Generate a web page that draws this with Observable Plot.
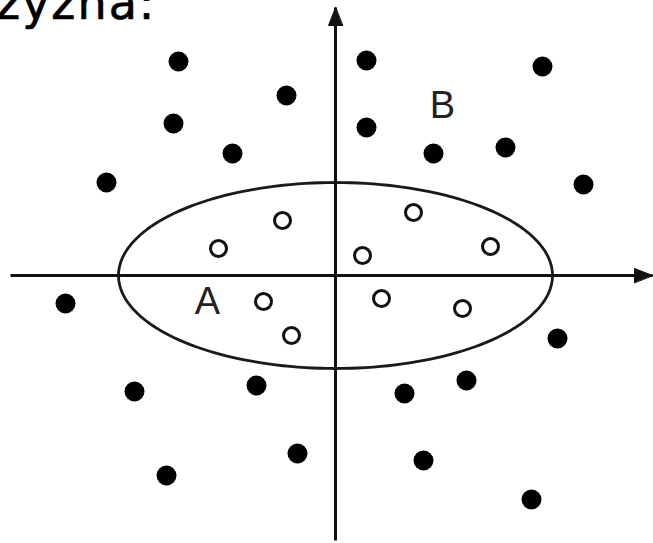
<!DOCTYPE html>
<html>
<head>
<meta charset="utf-8">
<script src="https://cdn.jsdelivr.net/npm/d3@7"></script>
<script src="https://cdn.jsdelivr.net/npm/@observablehq/plot@0.6"></script>
<style>
html, body { margin: 0; padding: 0; background: #fff; overflow: hidden; }
#wrap { position: relative; width: 653px; height: 543px; }
#title { position: absolute; left: -4px; top: -20px; font: 46px/46px "DejaVu Sans", sans-serif; letter-spacing: 2px; color: #000; white-space: nowrap; -webkit-text-stroke: 0.7px #000; }
</style>
</head>
<body>
<div id="wrap"><div id="chart"></div><div id="title">zyzna:</div></div>
<script>
// Class B (filled dots), outside the boundary
const classBX = [-157, -162, -229, -49, -103, 31, 31, 207, 170, 98, 248, -270, 222, -201, -79, -169, -38, 69, 131, 88, 196];
const classBY = [214, 152, 93, 180, 122, 215, 148, 209, 128, 122, 91, -28, -63, -116, -110, -200, -178, -118, -105, -185, -224];
// Class A (open circles), inside the boundary
const classAX = [-53, -117, 27, 78, 155, -72, -44, 46, 127];
const classAY = [55, 27, 20, 63, 29, -26, -60, -23, -33];
// Class labels
const labelText = ["A", "B"];
const labelX = [-128, 107];
const labelY = [-26, 170];
// Decision boundary (ellipse)
const ellipseCenter = [0, 0];
const ellipseRadii = [217, 93];
// Axes extents
const axisXRange = [-325, 317];
const axisYRange = [-265, 268];
const xDomain = [-335, 318];
const yDomain = [-268, 275];

const classB = classBX.map((x, i) => ({x, y: classBY[i]}));
const classA = classAX.map((x, i) => ({x, y: classAY[i]}));
const labels = labelText.map((t, i) => ({t, x: labelX[i], y: labelY[i]}));
const ellipse = d3.range(0, 360, 2).map(a => {
  const t = a * Math.PI / 180;
  return {x: ellipseCenter[0] + ellipseRadii[0] * Math.cos(t), y: ellipseCenter[1] + ellipseRadii[1] * Math.sin(t)};
});
const axes = [
  {x1: axisXRange[0], y1: 0, x2: axisXRange[1], y2: 0},
  {x1: 0, y1: axisYRange[0], x2: 0, y2: axisYRange[1]}
];
const tips = [
  {x: axisXRange[1], y: 0, rotate: 90},
  {x: 0, y: axisYRange[1], rotate: 0}
];
const headShape = {
  draw(ctx, l) {
    ctx.moveTo(0, -l);
    ctx.lineTo(-7, -l + 18);
    ctx.lineTo(7, -l + 18);
    ctx.closePath();
  }
};

const chart = Plot.plot({
  width: 653,
  height: 543,
  margin: 0,
  x: {domain: xDomain, axis: null},
  y: {domain: yDomain, axis: null},
  style: {background: "white"},
  marks: [
    Plot.line(ellipse, {x: "x", y: "y", curve: "linear-closed", stroke: "#1a1a1a", strokeWidth: 2.8}),
    Plot.link(axes, {x1: "x1", y1: "y1", x2: "x2", y2: "y2", stroke: "#111", strokeWidth: 3}),
    Plot.vector(tips, {x: "x", y: "y", rotate: "rotate", length: 18, anchor: "end", shape: headShape, fill: "#111", stroke: "#111", strokeWidth: 1}),
    Plot.dot(classB, {x: "x", y: "y", r: 10, fill: "#000", stroke: "none"}),
    Plot.dot(classA, {x: "x", y: "y", r: 8, fill: "white", stroke: "#111", strokeWidth: 3}),
    Plot.text(labels, {x: "x", y: "y", text: "t", fontSize: 38, fontFamily: "'Liberation Sans Narrow', 'Liberation Sans', sans-serif", fill: "#222"})
  ]
});
document.getElementById("chart").appendChild(chart);
</script>
</body>
</html>
